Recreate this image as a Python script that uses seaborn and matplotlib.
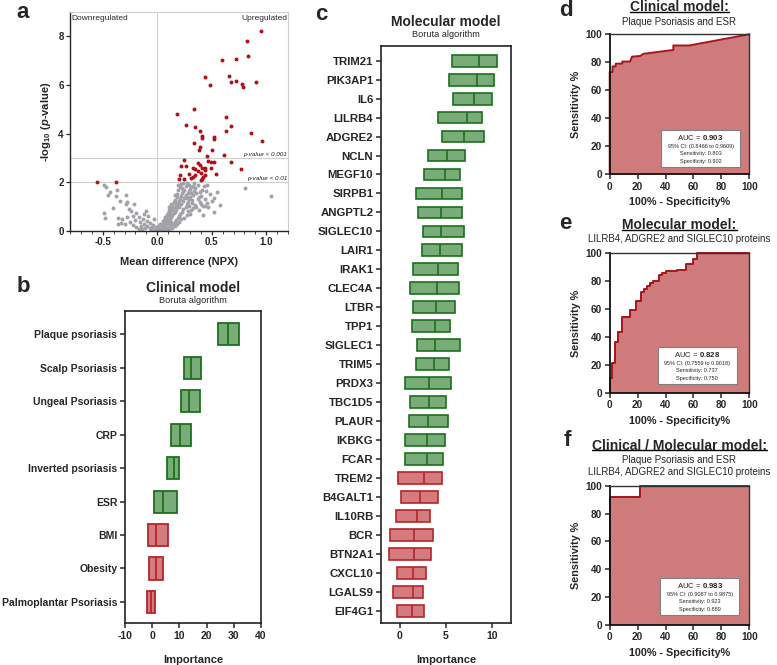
import pandas as pd
import matplotlib
matplotlib.use("Agg")
import matplotlib.pyplot as plt
from matplotlib.patches import Rectangle
from matplotlib.lines import Line2D
from matplotlib.ticker import MultipleLocator
import seaborn as sns

# ---------------- data ----------------
# panel a: volcano (mean difference NPX, -log10 p)
ns_points = [
    (-0.49, 1.90), (-0.47, 1.80), (-0.45, 1.46), (-0.43, 1.60), (-0.37, 1.70), (-0.38, 1.42),
    (-0.34, 1.24), (-0.29, 1.46), (-0.28, 1.20), (-0.29, 1.12), (-0.21, 1.12), (-0.49, 0.73),
    (-0.48, 0.54), (-0.36, 0.52), (-0.32, 0.50), (-0.36, 0.28), (-0.33, 0.33), (-0.28, 0.57),
    (-0.24, 0.81), (-0.22, 0.61), (-0.19, 0.74), (-0.17, 0.59), (-0.16, 0.39), (-0.13, 0.51),
    (-0.10, 0.84), (-0.12, 0.28), (-0.09, 0.21), (-0.07, 0.32), (-0.05, 0.15), (-0.03, 0.48),
    (-0.02, 0.08), (-0.09, 0.40), (-0.15, 0.21), (-0.19, 0.18), (-0.22, 0.25), (-0.25, 0.37),
    (-0.30, 0.29), (-0.11, 0.12), (-0.06, 0.05), (-0.14, 0.10), (-0.04, 0.26), (-0.08, 0.62),
    (-0.12, 0.70), (-0.20, 0.45), (-0.26, 0.92), (-0.41, 0.95), (-0.17, 0.08), (-0.01, 0.18),
    (-0.03, 0.02), (-0.07, 0.14),
    (0.01, 0.04), (0.02, 0.15), (0.04, 0.23), (0.05, 0.33), (0.06, 0.46), (0.08, 0.52),
    (0.09, 0.66), (0.10, 0.76), (0.11, 0.87), (0.13, 0.95), (0.14, 1.06), (0.15, 1.19),
    (0.16, 1.28), (0.18, 1.39), (0.18, 1.53), (0.19, 1.68), (0.21, 1.81), (0.22, 1.92),
    (0.23, 1.77), (0.24, 1.63), (0.26, 1.50), (0.27, 1.34), (0.28, 1.19), (0.29, 1.03),
    (0.31, 0.87), (0.32, 1.28), (0.33, 1.46), (0.34, 1.63), (0.35, 1.76), (0.37, 1.91),
    (0.38, 1.39), (0.39, 1.21), (0.42, 1.03), (0.44, 1.31), (0.46, 1.17), (0.45, 1.63),
    (0.52, 0.80), (0.52, 1.37), (0.81, 1.78), (1.04, 1.45),
    (0.03, 0.08), (0.05, 0.12), (0.07, 0.20), (0.08, 0.28), (0.09, 0.35), (0.10, 0.42),
    (0.12, 0.50), (0.13, 0.58), (0.14, 0.64), (0.15, 0.72), (0.16, 0.80), (0.17, 0.88),
    (0.18, 0.97), (0.19, 1.10), (0.20, 1.22), (0.21, 1.30), (0.22, 1.42), (0.23, 1.55),
    (0.25, 1.68), (0.26, 1.85), (0.27, 1.96), (0.29, 1.88), (0.30, 1.72), (0.31, 1.58),
    (0.30, 1.40), (0.29, 1.30), (0.27, 1.10), (0.26, 0.98), (0.24, 0.90), (0.23, 0.78),
    (0.21, 0.70), (0.20, 0.62), (0.19, 0.55), (0.17, 0.45), (0.16, 0.38), (0.15, 0.30),
    (0.13, 0.25), (0.12, 0.18), (0.10, 0.14), (0.08, 0.09), (0.06, 0.05), (0.04, 0.02),
    (0.07, 0.38), (0.09, 0.50), (0.11, 0.62), (0.12, 0.74), (0.14, 0.85), (0.15, 0.96),
    (0.17, 1.05), (0.18, 1.16), (0.20, 1.00), (0.22, 1.12), (0.24, 1.24), (0.25, 1.36),
    (0.26, 1.44), (0.28, 1.56), (0.29, 1.64), (0.31, 1.80), (0.33, 1.86), (0.34, 1.98),
    (0.36, 1.55), (0.37, 1.30), (0.40, 1.45), (0.41, 1.70), (0.43, 1.85), (0.40, 1.12),
    (0.35, 1.08), (0.33, 0.95), (0.30, 0.70), (0.27, 0.64), (0.25, 0.55), (0.22, 0.48),
    (0.20, 0.36), (0.18, 0.28), (0.16, 0.20), (0.14, 0.12), (0.11, 0.07), (0.09, 0.03),
    (0.48, 1.52), (0.50, 1.25), (0.47, 0.98), (0.55, 1.60), (0.38, 0.85), (0.42, 0.65),
    (0.58, 1.05), (0.13, 0.36), (0.10, 0.27), (0.06, 0.16), (0.03, 0.30), (0.02, 0.05),
    (0.00, 0.10), (0.01, 0.22), (0.05, 0.40), (0.07, 0.58), (0.11, 0.98), (0.13, 1.12),
    (0.16, 1.46), (0.19, 1.90), (0.24, 1.98), (0.32, 1.15), (0.36, 0.98), (0.44, 1.02),
    (0.39, 1.60), (0.46, 1.90), (0.28, 0.82),
]
sig_points = [
    (0.95, 8.23), (0.82, 7.82), (0.83, 7.18), (0.59, 7.01), (0.72, 7.05), (0.44, 6.32),
    (0.66, 6.38), (0.68, 6.14), (0.72, 6.16), (0.48, 5.99), (0.78, 6.03), (0.79, 5.93),
    (0.91, 6.13), (0.18, 4.82), (0.34, 5.03), (0.63, 4.69), (0.26, 4.37), (0.35, 4.28),
    (0.68, 4.30), (0.39, 4.12), (0.41, 3.92), (0.41, 3.82), (0.52, 3.86), (0.52, 3.79),
    (0.63, 4.12), (0.86, 4.01), (0.96, 3.71), (0.34, 3.60), (0.39, 3.45), (0.38, 3.34),
    (0.50, 3.33), (0.46, 3.09), (0.61, 3.12), (0.25, 2.93), (0.22, 2.69), (0.26, 2.69),
    (0.37, 2.79), (0.39, 2.71), (0.47, 2.86), (0.49, 2.83), (0.52, 2.83), (0.68, 2.83),
    (0.33, 2.57), (0.35, 2.56), (0.41, 2.58), (0.44, 2.57), (0.44, 2.49), (0.49, 2.60),
    (0.77, 2.53), (0.21, 2.32), (0.29, 2.34), (0.37, 2.45), (0.35, 2.30), (0.33, 2.22),
    (0.31, 2.16), (0.40, 2.38), (0.44, 2.30), (0.42, 2.20), (0.54, 2.34), (0.20, 2.12),
    (0.25, 2.14), (0.40, 2.10), (0.41, 2.15), (-0.55, 2.00), (-0.38, 2.02),
]

# panel b: clinical model, Boruta importance (q1, median, q3)
clin_features = ["Plaque psoriasis", "Scalp Psoriasis", "Ungeal Psoriasis", "CRP",
                 "Inverted psoriasis", "ESR", "BMI", "Obesity", "Palmoplantar Psoriasis"]
clin_q1 = [24.1, 11.7, 10.7, 7.0, 5.3, 0.6, -1.5, -1.2, -1.8]
clin_med = [27.8, 14.3, 13.6, 10.4, 8.0, 4.0, 1.5, 1.3, -0.4]
clin_q3 = [31.8, 17.9, 17.5, 14.4, 9.8, 9.2, 5.8, 3.9, 1.0]
clin_status = ["Confirmed"] * 6 + ["Rejected"] * 3

# panel c: molecular model
mol_features = ["TRIM21", "PIK3AP1", "IL6", "LILRB4", "ADGRE2", "NCLN", "MEGF10", "SIRPB1",
                "ANGPTL2", "SIGLEC10", "LAIR1", "IRAK1", "CLEC4A", "LTBR", "TPP1", "SIGLEC1",
                "TRIM5", "PRDX3", "TBC1D5", "PLAUR", "IKBKG", "FCAR", "TREM2", "B4GALT1",
                "IL10RB", "BCR", "BTN2A1", "CXCL10", "LGALS9", "EIF4G1"]
mol_q1 = [5.65, 5.32, 5.71, 4.17, 4.53, 3.02, 2.66, 1.80, 1.94, 2.55, 2.37, 1.48, 1.12, 1.48,
          1.34, 1.87, 1.72, 0.54, 1.12, 0.97, 0.54, 0.54, -0.17, 0.18, -0.39, -1.00, -1.18,
          -0.32, -0.71, -0.32]
mol_med = [8.56, 8.30, 7.97, 7.26, 6.90, 5.07, 4.89, 4.53, 4.49, 4.49, 4.35, 4.14, 3.99, 3.92,
           3.81, 3.81, 3.71, 3.13, 3.17, 3.09, 2.95, 2.95, 2.63, 2.23, 1.91, 1.55, 1.51, 1.48,
           1.40, 1.34]
mol_q3 = [10.5, 10.2, 9.9, 8.88, 9.05, 7.08, 6.47, 6.76, 6.68, 6.97, 6.68, 6.25, 6.40, 5.97,
          5.46, 6.47, 5.28, 5.50, 5.00, 5.17, 4.92, 4.63, 4.57, 4.10, 3.23, 3.60, 3.42, 2.80,
          2.55, 2.66]
mol_status = ["Confirmed"] * 22 + ["Rejected"] * 8

# panels d-f: ROC curves (100% - specificity, sensitivity)
d_fpr = [0, 0, 2, 2, 4.3, 4.3, 9, 9, 14.6, 16, 22, 24, 45.6, 45.6, 57, 100]
d_tpr = [0, 73, 73, 77, 77, 79, 79, 80.5, 80.5, 84, 84.5, 86, 88.8, 92, 92, 100]
e_fpr = [0, 0, 1.9, 1.9, 3.8, 3.8, 6, 6, 8.6, 8.6, 14.8, 14.8, 18.7, 18.7, 22.5, 22.5, 24.6,
         24.6, 26.8, 26.8, 29, 29, 31.3, 31.3, 35.6, 35.6, 37.6, 37.6, 40, 40, 48, 48, 54.5,
         54.5, 60, 60, 62.4, 62.4, 100]
e_tpr = [0, 10.3, 10.3, 21, 21, 36.6, 36.6, 43.3, 43.3, 54, 54, 59.3, 59.3, 66, 66, 72.5, 72.5,
         74.4, 74.4, 76.6, 76.6, 79, 79, 80.4, 80.4, 84.2, 84.2, 86.1, 86.1, 87, 87, 88, 88,
         92.1, 92.1, 95.7, 95.7, 100, 100]
f_fpr = [0, 0, 22, 22, 100]
f_tpr = [0, 92, 92, 100, 100]

roc_stats = {
    "d": ("0.903", "95% CI: (0.8466 to 0.9609)", "Sensitivity: 0.803", "Specificity: 0.902"),
    "e": ("0.828", "95% CI: (0.7559 to 0.9018)", "Sensitivity: 0.737", "Specificity: 0.750"),
    "f": ("0.983", "95% CI: (0.9087 to 0.9875)", "Sensitivity: 0.923", "Specificity: 0.889"),
}

# ---------------- style ----------------
sns.set_style("ticks")
plt.rcParams["font.family"] = ["Liberation Sans", "DejaVu Sans"]
plt.rcParams["font.weight"] = "bold"
plt.rcParams["axes.labelweight"] = "bold"
plt.rcParams["axes.unicode_minus"] = False
plt.rcParams["mathtext.fontset"] = "custom"
plt.rcParams["mathtext.rm"] = "Liberation Sans:bold"
plt.rcParams["mathtext.it"] = "Liberation Sans:bold:italic"
plt.rcParams["mathtext.bf"] = "Liberation Sans:bold"

GREEN_FILL, GREEN_EDGE = "#7aac7a", "#1c711c"
RED_FILL, RED_EDGE = "#d57b80", "#b3262b"
ROC_FILL, ROC_EDGE = "#cf7b7c", "#a8141c"
GRID = "#d0d0d0"

W, H = 777, 665


def px_box(l, t, r, b):
    return [l / W, 1 - b / H, (r - l) / W, (b - t) / H]


def ftext(x, y, s, **kw):
    return fig.text(x / W, 1 - y / H, s, **kw)


fig = plt.figure(figsize=(W / 100, H / 100), dpi=100)

# ---------------- panel a ----------------
ax_a = fig.add_axes(px_box(70, 12, 288, 231))
ns_df = pd.DataFrame(ns_points, columns=["diff", "logp"])
sig_df = pd.DataFrame(sig_points, columns=["diff", "logp"])
ax_a.axvline(0, color=GRID, lw=0.8, zorder=0)
ax_a.axhline(2, color=GRID, lw=0.8, zorder=0)
ax_a.axhline(3, color=GRID, lw=0.8, zorder=0)
sns.scatterplot(data=ns_df, x="diff", y="logp", color="#a2a2a8", s=8, linewidth=0, ax=ax_a, zorder=2)
sns.scatterplot(data=sig_df, x="diff", y="logp", color="#b0121a", s=8, linewidth=0, ax=ax_a, zorder=3)
ax_a.set_xlim(-0.8, 1.2)
ax_a.set_ylim(0, 9)
ax_a.set_xticks([-0.5, 0.0, 0.5, 1.0])
ax_a.set_xticklabels(["-0.5", "0.0", "0.5", "1.0"])
ax_a.xaxis.set_minor_locator(MultipleLocator(0.1))
ax_a.set_yticks([0, 2, 4, 6, 8])
ax_a.tick_params(labelsize=7, length=3, width=0.9, pad=1.5)
ax_a.tick_params(which="minor", length=1.8, width=0.6)
for side in ["top", "right"]:
    ax_a.spines[side].set_color(GRID)
    ax_a.spines[side].set_linewidth(0.8)
for side in ["left", "bottom"]:
    ax_a.spines[side].set_linewidth(1.0)
ax_a.set_xlabel("Mean difference (NPX)", fontsize=8, labelpad=7)
ax_a.set_ylabel(r"-log$_{10}$ ($\mathit{p}$-value)", fontsize=8, labelpad=4)
ax_a.text(-0.79, 8.72, "Downregulated", fontsize=6, fontweight="normal", va="center", ha="left")
ax_a.text(1.19, 8.72, "Upregulated", fontsize=6, fontweight="normal", va="center", ha="right")
ax_a.text(1.19, 3.06, "p-value < 0.001", fontsize=4.6, fontweight="normal", style="italic",
          va="bottom", ha="right")
ax_a.text(1.19, 2.06, "p-value < 0.01", fontsize=4.6, fontweight="normal", style="italic",
          va="bottom", ha="right")


# ---------------- panels b, c ----------------
def boruta_frame(features, q1, med, q3, status):
    rows = []
    for f, a, m, b, s in zip(features, q1, med, q3, status):
        for v in (a, a, m, b, b):
            rows.append({"feature": f, "importance": v, "status": s})
    return pd.DataFrame(rows)


def boruta_panel(ax, df, order, width, lw):
    for status, fill, edge in [("Confirmed", GREEN_FILL, GREEN_EDGE), ("Rejected", RED_FILL, RED_EDGE)]:
        sub = df[df["status"] == status]
        sns.boxplot(data=sub, x="importance", y="feature", order=order, orient="y",
                    whis=0, showcaps=False, showfliers=False, width=width,
                    color=fill, saturation=1, linecolor=edge, linewidth=lw,
                    medianprops={"color": edge, "linewidth": lw}, ax=ax)
    for sp in ax.spines.values():
        sp.set_linewidth(1.2)
        sp.set_color("#222222")
    ax.set_ylabel("")
    ax.set_xlabel("Importance", fontsize=8, labelpad=10)
    ax.tick_params(length=3.5, width=1.1, pad=2)


ax_b = fig.add_axes(px_box(125, 311, 261, 623))
clin_df = boruta_frame(clin_features, clin_q1, clin_med, clin_q3, clin_status)
boruta_panel(ax_b, clin_df, clin_features, 0.66, 1.3)
ax_b.set_xlim(-10, 40)
ax_b.set_xticks([-10, 0, 10, 20, 30, 40])
ax_b.set_ylim(8.63, -0.70)
ax_b.tick_params(axis="y", labelsize=7.5)
ax_b.tick_params(axis="x", labelsize=7.5)
ftext(193, 287.7, "Clinical model", fontsize=10, ha="center", va="center")
ftext(193, 300.7, "Boruta algorithm", fontsize=6.6, fontweight="normal", ha="center", va="center")

ax_c = fig.add_axes(px_box(381, 45.7, 511, 623.3))
mol_df = boruta_frame(mol_features, mol_q1, mol_med, mol_q3, mol_status)
boruta_panel(ax_c, mol_df, mol_features, 0.62, 1.2)
ax_c.set_xlim(-2, 12)
ax_c.set_xticks([0, 5, 10])
ax_c.set_ylim(29.66, -0.79)
ax_c.tick_params(axis="y", labelsize=8.2)
ax_c.tick_params(axis="x", labelsize=7.5)
ftext(446, 21.7, "Molecular model", fontsize=10, ha="center", va="center")
ftext(446, 34.3, "Boruta algorithm", fontsize=6.6, fontweight="normal", ha="center", va="center")


# ---------------- panels d, e, f ----------------
def roc_panel(ax, fpr, tpr, stats, box_x, box_y):
    ax.fill_between(fpr, tpr, 0, color=ROC_FILL, lw=0, zorder=1)
    sns.lineplot(x=fpr, y=tpr, sort=False, estimator=None, color=ROC_EDGE, lw=1.4, ax=ax,
                 zorder=2, clip_on=False)
    ax.set_xlim(0, 100)
    ax.set_ylim(0, 100)
    ax.set_xticks(range(0, 101, 20))
    ax.set_yticks(range(0, 101, 20))
    ax.tick_params(labelsize=7.2, length=3.5, width=1.1, pad=2)
    for side in ["left", "bottom"]:
        ax.spines[side].set_linewidth(1.3)
        ax.spines[side].set_color("#111111")
    for side in ["top", "right"]:
        ax.spines[side].set_linewidth(1.0)
        ax.spines[side].set_color("#333333")
    ax.set_xlabel("100% - Specificity%", fontsize=7.8, labelpad=4)
    ax.set_ylabel("Sensitivity %", fontsize=7.8, labelpad=3)
    ax.add_patch(Rectangle((box_x, box_y), 56.5, 26.5, facecolor="white", edgecolor="#808080",
                           lw=0.8, zorder=3))
    cx = box_x + 28.25
    auc, ci, sens, spec = stats
    ax.text(cx, box_y + 21.3, "AUC = $\\mathbf{" + auc + "}$", fontsize=5.6, fontweight="normal",
            ha="center", va="center", zorder=4)
    ax.text(cx, box_y + 15, ci, fontsize=4, fontweight="normal", ha="center", va="center", zorder=4)
    ax.text(cx, box_y + 9.6, sens, fontsize=4, fontweight="normal", ha="center", va="center", zorder=4)
    ax.text(cx, box_y + 4.3, spec, fontsize=4, fontweight="normal", ha="center", va="center", zorder=4)


ax_d = fig.add_axes(px_box(609.7, 34.3, 749.3, 174))
roc_panel(ax_d, d_fpr, d_tpr, roc_stats["d"], 36.8, 5)
ax_e = fig.add_axes(px_box(609.7, 253.3, 749.3, 392.7))
roc_panel(ax_e, e_fpr, e_tpr, roc_stats["e"], 34.4, 6.2)
ax_f = fig.add_axes(px_box(609.7, 486, 749.3, 624.7))
roc_panel(ax_f, f_fpr, f_tpr, roc_stats["f"], 36.3, 7)

titles = [
    ftext(679.5, 7.0, "Clinical model:", fontsize=10, ha="center", va="center"),
    ftext(679.5, 225.2, "Molecular model:", fontsize=10, ha="center", va="center"),
    ftext(679.5, 445.5, "Clinical / Molecular model:", fontsize=10, ha="center", va="center"),
]
ftext(679.5, 22, "Plaque Psoriasis and ESR", fontsize=7, fontweight="normal", ha="center", va="center")
ftext(679.5, 239.5, "LILRB4, ADGRE2 and SIGLEC10 proteins", fontsize=7, fontweight="normal",
      ha="center", va="center")
ftext(679.5, 460, "Plaque Psoriasis and ESR", fontsize=7, fontweight="normal", ha="center", va="center")
ftext(679.5, 472.3, "LILRB4, ADGRE2 and SIGLEC10 proteins", fontsize=7, fontweight="normal",
      ha="center", va="center")

# panel letters
for letter, x, y in [("a", 23, 12.5), ("b", 23, 287), ("c", 321, 14),
                     ("d", 566, 11), ("e", 565, 224), ("f", 567, 440)]:
    ftext(x, y, letter, fontsize=16, ha="center", va="center")

# underline the ROC titles, just under the baseline
fig.canvas.draw()
renderer = fig.canvas.get_renderer()
for t in titles:
    bb = t.get_window_extent(renderer)
    yline = (bb.y0 + 0.16 * bb.height) / H
    fig.add_artist(Line2D([bb.x0 / W, bb.x1 / W], [yline, yline], color="black", lw=1.0))

fig.savefig("out.png", dpi=100)
